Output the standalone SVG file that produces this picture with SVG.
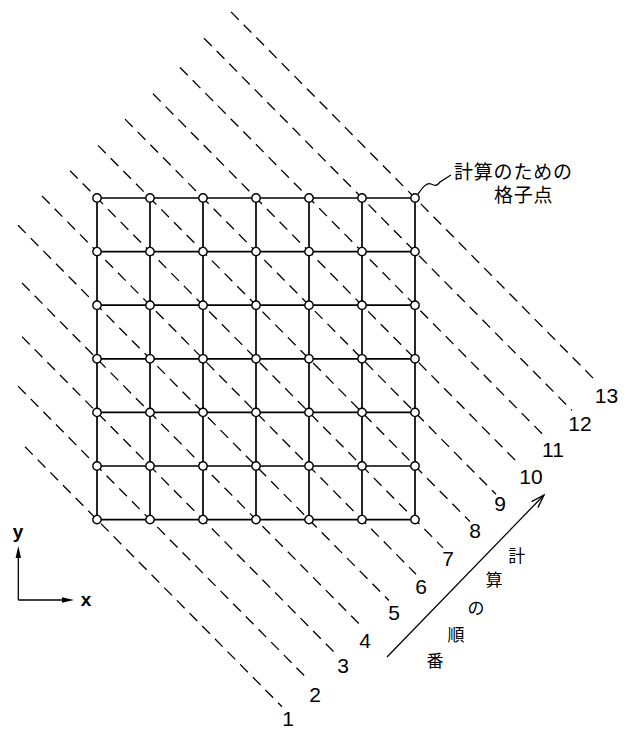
<svg xmlns="http://www.w3.org/2000/svg" width="632" height="731" viewBox="0 0 632 731">
<style>
.grid{stroke:#000;stroke-width:1.7;fill:none}
.diag{stroke:#000;stroke-width:1.3;stroke-dasharray:11 7;fill:none}
.pt{fill:#fff;stroke:#000;stroke-width:1.4}
.num{font-family:"Liberation Sans",Arial,sans-serif;font-size:21px;text-anchor:middle;fill:#000}
.jp{font-family:"Liberation Sans","Noto Sans CJK JP",sans-serif;fill:#000}
.ax{font-family:"Liberation Sans",Arial,sans-serif;font-size:19px;font-weight:bold;text-anchor:middle;fill:#000}
.thin{stroke:#000;stroke-width:1.3;fill:none}
</style>
<defs>
<circle id="p" r="4.2" class="pt"/>
</defs>
<rect width="632" height="731" fill="#fff"/>

<g id="diagonals">
<line class="diag" x1="25" y1="446.8" x2="282" y2="706.7"/>
<line class="diag" x1="18" y1="386.1" x2="309" y2="680.4"/>
<line class="diag" x1="22" y1="336.6" x2="336" y2="654.1"/>
<line class="diag" x1="22" y1="283" x2="362" y2="626.8"/>
<line class="diag" x1="18" y1="225.3" x2="389" y2="600.5"/>
<line class="diag" x1="42" y1="196" x2="416" y2="574.2"/>
<line class="diag" x1="70" y1="170.7" x2="443" y2="547.9"/>
<line class="diag" x1="98" y1="145.4" x2="470" y2="521.6"/>
<line class="diag" x1="125" y1="119.1" x2="496" y2="494.3"/>
<line class="diag" x1="153" y1="93.8" x2="520" y2="465"/>
<line class="diag" x1="180" y1="67.5" x2="545" y2="436.7"/>
<line class="diag" x1="204" y1="38.2" x2="572" y2="410.4"/>
<line class="diag" x1="231" y1="11.9" x2="597" y2="382.1"/>
</g>

<g id="connectors">
<path class="grid" d="M97,198H415M97,251.6H415M97,305.2H415M97,358.8H415M97,412.4H415M97,466H415M97,519.6H415"/>
<path class="grid" d="M97,198V519.6M150,198V519.6M203,198V519.6M256,198V519.6M309,198V519.6M362,198V519.6M415,198V519.6"/>
<path class="thin" d="M418,194 C423,187 427,182 431,184 C435,186 437,186 440,182 L451,175"/>
</g>

<g id="nodes">
<g id="n0-0"><use href="#p" x="97" y="198"/></g>
<g id="n1-0"><use href="#p" x="150" y="198"/></g>
<g id="n2-0"><use href="#p" x="203" y="198"/></g>
<g id="n3-0"><use href="#p" x="256" y="198"/></g>
<g id="n4-0"><use href="#p" x="309" y="198"/></g>
<g id="n5-0"><use href="#p" x="362" y="198"/></g>
<g id="n6-0"><use href="#p" x="415" y="198"/></g>
<g id="n0-1"><use href="#p" x="97" y="251.6"/></g>
<g id="n1-1"><use href="#p" x="150" y="251.6"/></g>
<g id="n2-1"><use href="#p" x="203" y="251.6"/></g>
<g id="n3-1"><use href="#p" x="256" y="251.6"/></g>
<g id="n4-1"><use href="#p" x="309" y="251.6"/></g>
<g id="n5-1"><use href="#p" x="362" y="251.6"/></g>
<g id="n6-1"><use href="#p" x="415" y="251.6"/></g>
<g id="n0-2"><use href="#p" x="97" y="305.2"/></g>
<g id="n1-2"><use href="#p" x="150" y="305.2"/></g>
<g id="n2-2"><use href="#p" x="203" y="305.2"/></g>
<g id="n3-2"><use href="#p" x="256" y="305.2"/></g>
<g id="n4-2"><use href="#p" x="309" y="305.2"/></g>
<g id="n5-2"><use href="#p" x="362" y="305.2"/></g>
<g id="n6-2"><use href="#p" x="415" y="305.2"/></g>
<g id="n0-3"><use href="#p" x="97" y="358.8"/></g>
<g id="n1-3"><use href="#p" x="150" y="358.8"/></g>
<g id="n2-3"><use href="#p" x="203" y="358.8"/></g>
<g id="n3-3"><use href="#p" x="256" y="358.8"/></g>
<g id="n4-3"><use href="#p" x="309" y="358.8"/></g>
<g id="n5-3"><use href="#p" x="362" y="358.8"/></g>
<g id="n6-3"><use href="#p" x="415" y="358.8"/></g>
<g id="n0-4"><use href="#p" x="97" y="412.4"/></g>
<g id="n1-4"><use href="#p" x="150" y="412.4"/></g>
<g id="n2-4"><use href="#p" x="203" y="412.4"/></g>
<g id="n3-4"><use href="#p" x="256" y="412.4"/></g>
<g id="n4-4"><use href="#p" x="309" y="412.4"/></g>
<g id="n5-4"><use href="#p" x="362" y="412.4"/></g>
<g id="n6-4"><use href="#p" x="415" y="412.4"/></g>
<g id="n0-5"><use href="#p" x="97" y="466"/></g>
<g id="n1-5"><use href="#p" x="150" y="466"/></g>
<g id="n2-5"><use href="#p" x="203" y="466"/></g>
<g id="n3-5"><use href="#p" x="256" y="466"/></g>
<g id="n4-5"><use href="#p" x="309" y="466"/></g>
<g id="n5-5"><use href="#p" x="362" y="466"/></g>
<g id="n6-5"><use href="#p" x="415" y="466"/></g>
<g id="n0-6"><use href="#p" x="97" y="519.6"/></g>
<g id="n1-6"><use href="#p" x="150" y="519.6"/></g>
<g id="n2-6"><use href="#p" x="203" y="519.6"/></g>
<g id="n3-6"><use href="#p" x="256" y="519.6"/></g>
<g id="n4-6"><use href="#p" x="309" y="519.6"/></g>
<g id="n5-6"><use href="#p" x="362" y="519.6"/></g>
<g id="n6-6"><use href="#p" x="415" y="519.6"/></g>
</g>

<g id="line-numbers">
<text class="num" x="288" y="726">1</text>
<text class="num" x="315" y="701.8">2</text>
<text class="num" x="343" y="672.8">3</text>
<text class="num" x="365" y="647.8">4</text>
<text class="num" x="394" y="619.8">5</text>
<text class="num" x="421" y="593.8">6</text>
<text class="num" x="448" y="565.8">7</text>
<text class="num" x="475" y="537.8">8</text>
<text class="num" x="500" y="510.8">9</text>
<text class="num" x="531" y="483.8">10</text>
<text class="num" x="553" y="456.8">11</text>
<text class="num" x="580" y="430.8">12</text>
<text class="num" x="606.5" y="403.3">13</text>
</g>

<g id="grid-label">
<text class="jp" x="454" y="178.7" font-size="19" letter-spacing="0.8">計算のための</text>
<text class="jp" x="494" y="202" font-size="19" letter-spacing="0.8">格子点</text>
</g>

<g id="order-arrow">
<line class="thin" x1="387" y1="657" x2="544" y2="495"/>
<polyline class="thin" points="531.6,501.6 544,495 537.9,507.6"/>
<text class="jp" font-size="17" text-anchor="middle" x="516.7" y="561.5">計</text>
<text class="jp" font-size="17" text-anchor="middle" x="494" y="585.5">算</text>
<text class="jp" font-size="17" text-anchor="middle" x="476" y="613.5">の</text>
<text class="jp" font-size="17" text-anchor="middle" x="456" y="640.5">順</text>
<text class="jp" font-size="17" text-anchor="middle" x="435" y="666.5">番</text>
</g>

<g id="axes">
<path class="thin" d="M18.3,600V556M18.3,600H63"/>
<polygon points="18.3,546 15.6,558 21,558" fill="#000"/>
<polygon points="74,600 62,597.3 62,602.7" fill="#000"/>
<text class="ax" x="18" y="538">y</text>
<text class="ax" x="86" y="605.5">x</text>
</g>
</svg>
